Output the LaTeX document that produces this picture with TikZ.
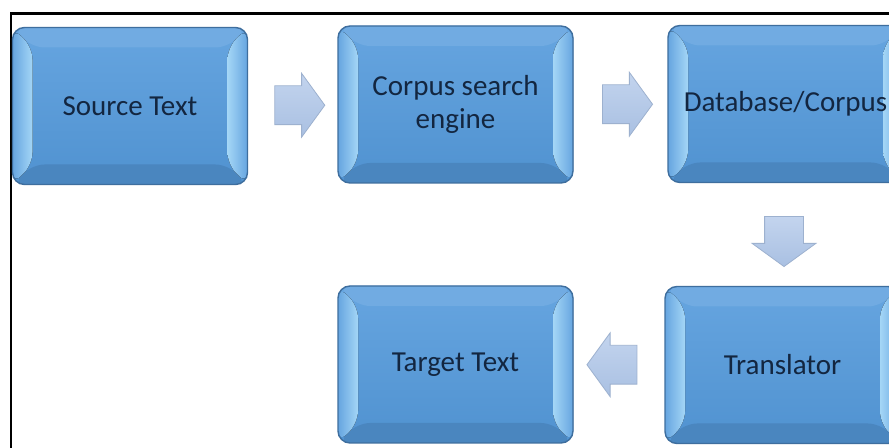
\documentclass[tikz,border=0pt]{standalone}
\usepackage{fontspec}
\setmainfont{Carlito}
\usetikzlibrary{shapes.arrows,calc}

\definecolor{boxtop}{HTML}{66A5E0}
\definecolor{boxbottom}{HTML}{5092D0}
\definecolor{boxedge}{HTML}{3E6E9E}
\definecolor{boxlight}{HTML}{A4D6F6}
\definecolor{textnavy}{HTML}{132640}
\definecolor{arrowtop}{HTML}{C3D4EE}
\definecolor{arrowbottom}{HTML}{A9C0E2}
\definecolor{arrowedge}{HTML}{9DB1CF}

\begin{document}
\begin{tikzpicture}[x=0.5pt, y=-0.5pt,
    stage/.style={rounded corners=6pt, draw=boxedge, line width=0.7pt,
      top color=boxtop, bottom color=boxbottom,
      minimum width=117.5pt, minimum height=78.5pt, align=center,
      text=textnavy, font=\fontsize{14.5}{16.5}\selectfont,
      path picture={
        \path (path picture bounding box.north west) coordinate (bnw)
              (path picture bounding box.north east) coordinate (bne)
              (path picture bounding box.south west) coordinate (bsw)
              (path picture bounding box.south east) coordinate (bse);
        \fill[boxtop!93!white] (bnw) -- (bne) -- ($(bne)+(-10pt,-10pt)$) -- ($(bnw)+(10pt,-10pt)$) -- cycle;
        \fill[boxbottom!92!black] (bsw) -- (bse) -- ($(bse)+(-10pt,10pt)$) -- ($(bsw)+(10pt,10pt)$) -- cycle;
        \fill[left color=boxtop, right color=boxlight] (bnw) -- ($(bnw)+(10pt,-10pt)$) -- ($(bsw)+(10pt,10pt)$) -- (bsw) -- cycle;
        \fill[left color=boxlight, right color=boxtop] (bne) -- ($(bne)+(-10pt,-10pt)$) -- ($(bse)+(-10pt,10pt)$) -- (bse) -- cycle;
      }},
    flow/.style={single arrow, draw=arrowedge, line width=0.4pt,
      top color=arrowtop, bottom color=arrowbottom,
      inner xsep=0pt, inner ysep=9.5pt, minimum height=25pt,
      single arrow head extend=6.25pt, single arrow tip angle=108}]

    \clip (0,0) rectangle (889,448);
    \fill[white] (0,0) rectangle (889,448);

    % frame of the figure
    \draw[line width=1.2pt] (11,13.5) rectangle (1000,600);

    % stages
    \node[stage] (src) at (130,106) {Source Text};
    \node[stage] (cse) at (455.5,104.5) {Corpus search\\engine};
    \node[stage] (db)  at (785.5,104) {Database/Corpus};
    \node[stage] (tr)  at (782.5,365) {Translator};
    \node[stage] (tgt) at (455.5,364.5) {Target Text};

    % block arrows between the stages
    \node[flow] (a1) at ($(src.east)!0.5!(cse.west)$) {};
    \node[flow] (a2) at ($(cse.east)!0.5!(db.west)$) {};
    \node[flow, rotate=-90] (a3) at ($(db.south)!0.5!(tr.north)$) {};
    \node[flow, rotate=180] (a4) at ($(tr.west)!0.5!(tgt.east)$) {};
\end{tikzpicture}
\end{document}
